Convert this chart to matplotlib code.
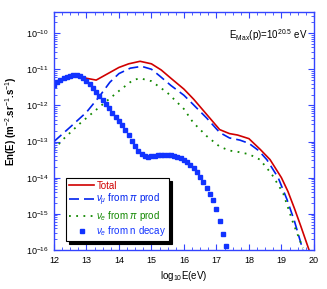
import matplotlib
matplotlib.use("Agg")
import matplotlib.pyplot as plt
import numpy as np
from matplotlib.ticker import MultipleLocator, FixedLocator, NullFormatter, LogFormatterSciNotation

plt.rcParams["font.family"] = ["Liberation Sans", "DejaVu Sans"]
plt.rcParams["mathtext.fontset"] = "custom"
plt.rcParams["mathtext.rm"] = "Liberation Sans"
plt.rcParams["mathtext.it"] = "Liberation Sans:italic"
plt.rcParams["mathtext.bf"] = "Liberation Sans:bold"

# total flux (log10 values)
total_x = [12.0, 12.3, 12.65, 13.0, 13.3, 13.7, 14.0, 14.3, 14.65, 15.0, 15.3,
           15.6, 16.0, 16.3, 16.7, 17.1, 17.4, 17.65, 18.0, 18.35, 18.65, 19.0,
           19.2, 19.4, 19.6, 19.85]
total_y = [-11.44, -11.25, -11.15, -11.25, -11.3, -11.1, -10.95, -10.85, -10.78,
           -10.85, -11.02, -11.25, -11.55, -11.83, -12.25, -12.67, -12.78, -12.82,
           -12.92, -13.22, -13.5, -14.0, -14.38, -14.85, -15.35, -16.0]

# nu_mu from pi production
numu_x = [12.0, 12.5, 13.0, 13.4, 13.72, 14.0, 14.35, 14.7, 15.0, 15.26, 15.6,
          16.0, 16.28, 16.7, 17.1, 17.4, 17.72, 18.0, 18.3, 18.55, 18.9, 19.17,
          19.4, 19.66]
numu_y = [-13.0, -12.6, -12.19, -11.75, -11.36, -11.12, -10.97, -10.92, -11.0,
          -11.19, -11.45, -11.72, -11.97, -12.35, -12.75, -12.9, -12.96, -13.05,
          -13.25, -13.5, -14.0, -14.6, -15.2, -16.0]

# nu_e from pi production
nue_x = [12.0, 12.28, 12.8, 13.42, 14.0, 14.43, 14.65, 15.0, 15.26, 15.48, 16.0,
         16.28, 16.7, 17.1, 17.4, 17.63, 18.0, 18.34, 18.7, 19.05, 19.36, 19.66]
nue_y = [-13.22, -12.94, -12.5, -12.03, -11.6, -11.3, -11.25, -11.33, -11.5,
         -11.64, -12.1, -12.47, -12.85, -13.14, -13.25, -13.28, -13.35, -13.5,
         -13.9, -14.42, -15.25, -15.95]

# nu_e from neutron decay
ndec_x = np.round(np.arange(12.0, 17.45, 0.1), 2)
ndec_y = [-11.44, -11.36, -11.30, -11.25, -11.21, -11.18, -11.17, -11.17, -11.20,
          -11.25, -11.32, -11.42, -11.52, -11.63, -11.74, -11.85, -11.96, -12.08,
          -12.20, -12.31, -12.43, -12.55, -12.68, -12.82, -12.98, -13.13, -13.26,
          -13.35, -13.40, -13.42, -13.41, -13.39, -13.37, -13.36, -13.36, -13.36,
          -13.37, -13.39, -13.42, -13.46, -13.51, -13.57, -13.64, -13.73, -13.84,
          -13.97, -14.12, -14.28, -14.45, -14.63, -14.88, -15.20, -15.55, -15.90,
          -16.25]

y_major = [1e-16, 1e-15, 1e-14, 1e-13, 1e-12, 1e-11, 1e-10]

fig = plt.figure(figsize=(3.27, 2.89), dpi=100)
ax = fig.add_axes([0.165, 0.135, 0.795, 0.823])

ax.plot(total_x, 10 ** np.array(total_y), color="#d00000", lw=1.2, label="Total")
ax.plot(numu_x, 10 ** np.array(numu_y), color="#0022ee", lw=1.2,
        dashes=(6, 3), label=r"$\nu_\mu$ from $\pi$ prod")
ax.plot(nue_x, 10 ** np.array(nue_y), color="#118800", lw=1.3,
        dashes=(1, 3), label=r"$\nu_e$ from $\pi$ prod")
ax.plot(ndec_x, 10 ** np.array(ndec_y), ls="none", marker="s", ms=2.6,
        color="#1133ff", label=r"$\nu_e$ from n decay")

ax.set_yscale("log")
ax.set_xlim(12, 20)
ax.set_ylim(1e-16, 3.8e-10)

ax.xaxis.set_major_locator(MultipleLocator(1))
ax.xaxis.set_minor_locator(MultipleLocator(0.25))
ax.yaxis.set_major_locator(FixedLocator(y_major))
ax.yaxis.set_major_formatter(LogFormatterSciNotation())
minor = [m * d for d in y_major for m in range(2, 10) if m * d < 3.8e-10]
ax.yaxis.set_minor_locator(FixedLocator(minor))
ax.yaxis.set_minor_formatter(NullFormatter())

for s in ax.spines.values():
    s.set_color("#3344ff")
    s.set_linewidth(1.0)
ax.tick_params(which="both", direction="in", top=True, right=True,
               color="#3344ff", labelsize=6.5, pad=4)
ax.tick_params(which="major", length=4)
ax.tick_params(which="minor", length=2)

ax.set_xlabel(r"log$_{10}$E(eV)", fontsize=7, labelpad=3)
ax.set_ylabel(r"En(E) (m$^{-2}$.sr$^{-1}$.s$^{-1}$)", fontsize=7,
              fontweight="bold")
ax.yaxis.set_label_coords(-0.135, 0.54)

ax.text(0.975, 0.905, r"E$_{\rm Max}$(p)=10$^{20.5}$ eV", transform=ax.transAxes,
        ha="right", va="center", fontsize=7)

leg = ax.legend(loc="lower left", bbox_to_anchor=(0.04, 0.03), fontsize=7,
                frameon=True, fancybox=False, shadow={"color": "black", "alpha": 1},
                edgecolor="black", handlelength=2.6, handletextpad=0.2,
                borderpad=0.3, labelspacing=0.1, borderaxespad=0.2)
leg.get_frame().set_linewidth(0.8)
for txt, col in zip(leg.get_texts(), ["#d00000", "#0022ee", "#118800", "#1133ff"]):
    txt.set_color(col)

fig.savefig("out.png", dpi=100)
